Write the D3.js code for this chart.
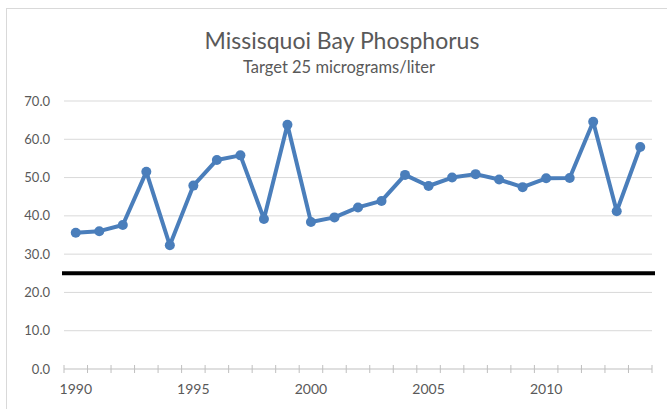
<!DOCTYPE html>
<html>
<head>
<meta charset="utf-8">
<script src="https://cdn.jsdelivr.net/npm/d3@7.9.0/dist/d3.min.js"></script>
<style>
  body { margin: 0; background: #fff; }
  svg { display: block; font-family: Lato, 'Open Sans', sans-serif; }
</style>
</head>
<body>
<div id="chart"></div>
<script>
const years = d3.range(1990, 2015);
const phosphorus = [35.6, 36.0, 37.6, 51.5, 32.3, 47.9, 54.6, 55.8, 39.2, 63.8,
  38.4, 39.6, 42.2, 43.9, 50.7, 47.8, 50.0, 50.9, 49.5, 47.5,
  49.8, 49.9, 64.6, 41.2, 58.0];
const target = 25;
const yTicks = [0, 10, 20, 30, 40, 50, 60, 70];
const xLabelYears = [1990, 1995, 2000, 2005, 2010];
const title = 'Missisquoi Bay Phosphorus';
const subtitle = 'Target 25 micrograms/liter';

const width = 667, height = 409;
const margin = { left: 64, right: 15, top: 101, bottom: 40 };

const svg = d3.select('#chart').append('svg')
  .attr('width', width)
  .attr('height', height);

// chart border
svg.append('rect')
  .attr('x', 6.5).attr('y', 8.5)
  .attr('width', width + 10).attr('height', height + 10)
  .attr('fill', 'none')
  .attr('stroke', '#d9d9d9');

const x = d3.scaleBand()
  .domain(years)
  .range([margin.left, width - margin.right]);

const y = d3.scaleLinear()
  .domain([0, 70])
  .range([height - margin.bottom, margin.top]);

// gridlines
svg.append('g')
  .selectAll('line')
  .data(yTicks.filter(d => d > 0))
  .join('line')
  .attr('x1', margin.left)
  .attr('x2', width - margin.right)
  .attr('y1', d => y(d))
  .attr('y2', d => y(d))
  .attr('stroke', '#d9d9d9')
  .attr('stroke-width', 1);

// y labels
svg.append('g')
  .selectAll('text')
  .data(yTicks)
  .join('text')
  .attr('x', 50)
  .attr('y', d => y(d))
  .attr('dy', '0.35em')
  .attr('text-anchor', 'end')
  .attr('fill', '#595959')
  .style('font-size', '13px')
  .text(d => d3.format('.1f')(d));

// x axis line + ticks between categories
const xAxisG = svg.append('g');
xAxisG.append('line')
  .attr('x1', margin.left)
  .attr('x2', width - margin.right)
  .attr('y1', y(0))
  .attr('y2', y(0))
  .attr('stroke', '#bfbfbf');
xAxisG.selectAll('line.tick')
  .data(years.concat([2015]))
  .join('line')
  .attr('class', 'tick')
  .attr('x1', d => d === 2015 ? x.range()[1] : x(d))
  .attr('x2', d => d === 2015 ? x.range()[1] : x(d))
  .attr('y1', y(0) - 4)
  .attr('y2', y(0) + 4)
  .attr('stroke', '#bfbfbf');
xAxisG.selectAll('text')
  .data(xLabelYears)
  .join('text')
  .attr('x', d => x(d) + x.bandwidth() / 2)
  .attr('y', y(0) + 25)
  .attr('text-anchor', 'middle')
  .attr('fill', '#595959')
  .style('font-size', '14px')
  .text(d => d);

// target line
svg.append('line')
  .attr('x1', margin.left - 2)
  .attr('x2', width - margin.right + 3)
  .attr('y1', y(target))
  .attr('y2', y(target))
  .attr('stroke', '#000')
  .attr('stroke-width', 4);

// series
const pts = years.map((yr, i) => ({ year: yr, value: phosphorus[i] }));
const line = d3.line()
  .x(d => x(d.year) + x.bandwidth() / 2)
  .y(d => y(d.value));

svg.append('path')
  .datum(pts)
  .attr('d', line)
  .attr('fill', 'none')
  .attr('stroke', '#4a7ebb')
  .attr('stroke-width', 4)
  .attr('stroke-linejoin', 'round');

svg.append('g')
  .selectAll('circle')
  .data(pts)
  .join('circle')
  .attr('cx', d => x(d.year) + x.bandwidth() / 2)
  .attr('cy', d => y(d.value))
  .attr('r', 5)
  .attr('fill', '#4a7ebb');

// titles
svg.append('text')
  .attr('x', 342)
  .attr('y', 49)
  .attr('text-anchor', 'middle')
  .attr('fill', '#595959')
  .style('font-size', '23px')
  .text(title);
svg.append('text')
  .attr('x', 339)
  .attr('y', 73)
  .attr('text-anchor', 'middle')
  .attr('fill', '#595959')
  .style('font-size', '16.5px')
  .text(subtitle);
</script>
</body>
</html>
